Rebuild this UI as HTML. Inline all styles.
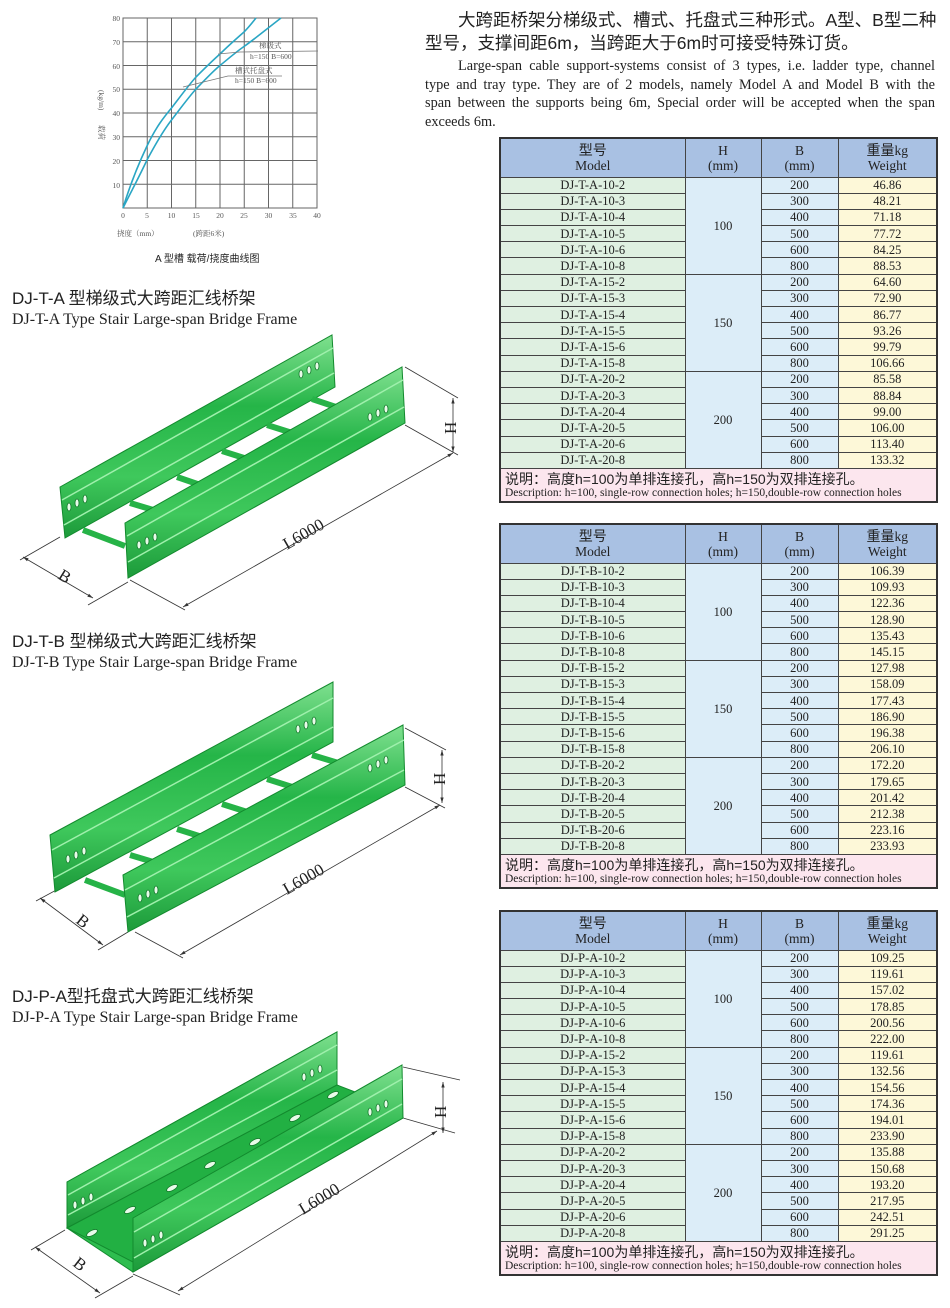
<!DOCTYPE html>
<html><head><meta charset="utf-8">
<style>
*{margin:0;padding:0;box-sizing:border-box}
body{width:950px;height:1308px;background:#fff;position:relative;overflow:hidden;font-family:"Liberation Serif","Noto Serif CJK SC",serif;color:#222}
.abs{position:absolute}
.cn{font-family:"Liberation Sans","Noto Sans CJK SC",sans-serif}
.jl{text-align:justify;text-align-last:justify;white-space:nowrap;display:block}
table{border-collapse:collapse;table-layout:fixed;position:absolute;left:499px;width:437px;border:2px solid #333;font-family:"Liberation Serif","Noto Sans CJK SC",serif}
td{border:1px solid #444;text-align:center;font-size:12.5px;line-height:14px;height:16.2px;padding:0;color:#222}
tr.h td{background:#a9c1e3;height:39px;font-size:13.5px;line-height:15px}
td.m{background:#dff0e1}
td.hh{background:#dcedf8}
td.b{background:#dcedf8}
td.w{background:#fdf8d8}
td.n{background:#fce6ee;text-align:left;padding-left:4px;height:34px}
td.n .c{font-family:"Liberation Sans","Noto Sans CJK SC",sans-serif;font-size:14px;line-height:16px;display:block}
td.n .e{font-size:11.5px;line-height:13px;display:block}
</style></head><body>

<div class="abs cn" style="left:425px;top:9px;width:510px;font-size:17.5px;line-height:23px;color:#222">
<span class="jl" style="padding-left:33px">大跨距桥架分梯级式、槽式、托盘式三种形式。A型、B型二种</span>
<span style="display:block;white-space:nowrap">型号，支撑间距6m，当跨距大于6m时可接受特殊订货。</span>
</div>
<div class="abs" style="left:425px;top:57px;width:510px;font-size:14.3px;line-height:18.5px">
<span class="jl" style="padding-left:33px">Large-span cable support-systems consist of 3 types, i.e. ladder type, channel</span>
<span class="jl">type and tray type. They are of 2 models, namely Model A and Model B with the</span>
<span class="jl">span between the supports being 6m, Special order will be accepted when the span</span>
<span style="display:block">exceeds 6m.</span>
</div>

<svg class="abs" style="left:0;top:0" width="420" height="275" viewBox="0 0 420 275">
<g stroke="#666" stroke-width="1" fill="none">
<rect x="123" y="18" width="194" height="190"/>
<line x1="147.25" y1="18" x2="147.25" y2="208"/><line x1="171.5" y1="18" x2="171.5" y2="208"/><line x1="195.75" y1="18" x2="195.75" y2="208"/><line x1="220" y1="18" x2="220" y2="208"/><line x1="244.25" y1="18" x2="244.25" y2="208"/><line x1="268.5" y1="18" x2="268.5" y2="208"/><line x1="292.75" y1="18" x2="292.75" y2="208"/>
<line x1="123" y1="41.75" x2="317" y2="41.75"/><line x1="123" y1="65.5" x2="317" y2="65.5"/><line x1="123" y1="89.25" x2="317" y2="89.25"/><line x1="123" y1="113" x2="317" y2="113"/><line x1="123" y1="136.75" x2="317" y2="136.75"/><line x1="123" y1="160.5" x2="317" y2="160.5"/><line x1="123" y1="184.25" x2="317" y2="184.25"/>
</g>
<g stroke="#2aa6c4" stroke-width="1.6" fill="none">
<path d="M123,208 C130,185 138,165 147,146 C156,127 164,117 171.5,108 C180,97 188,86 196,77 C204,69 212,61 220,54 C228,46 236,39 244,32 C249,27 252,23 256,18"/>
<path d="M123,208 C132,190 140,175 147,160 C155,145 163,131 171.5,120 C180,109 188,98 196,89 C204,81 212,72 220,65.5 C228,59 236,52 244,46.5 C256,38 268,28 281,18"/>
</g>
<g stroke="#777" stroke-width="0.8" fill="none"><polyline points="218,54 240,52 318,51"/><polyline points="183,87 228,76 282,76"/></g>
<g font-family="Liberation Serif,Noto Serif CJK SC,serif" font-size="7.5" fill="#555">
<text x="259" y="48">梯级式</text>
<text x="250" y="59">h=150 B=600</text>
<text x="235" y="73">槽式托盘式</text>
<text x="235" y="83">h=150 B=600</text>
<g text-anchor="end"><text x="120" y="21">80</text><text x="120" y="45">70</text><text x="120" y="69">60</text><text x="120" y="92">50</text><text x="120" y="116">40</text><text x="120" y="140">30</text><text x="120" y="164">20</text><text x="120" y="188">10</text></g>
<g text-anchor="middle"><text x="123" y="218">0</text><text x="147" y="218">5</text><text x="171.5" y="218">10</text><text x="196" y="218">15</text><text x="220" y="218">20</text><text x="244" y="218">25</text><text x="268.5" y="218">30</text><text x="293" y="218">35</text><text x="317" y="218">40</text></g>
<text x="117" y="236">挠度（mm）</text><text x="193" y="236">(跨距6米)</text>
<text transform="translate(99,90) rotate(90)">(kg/m)</text>
<text transform="translate(99,125) rotate(90)">载荷</text>
</g>
<text x="155" y="262" font-family="Liberation Sans,Noto Sans CJK SC,sans-serif" font-size="10" fill="#222">A 型槽  载荷/挠度曲线图</text>
</svg>

<div class="abs cn" style="left:12px;top:284px;font-size:17px">DJ-T-A 型梯级式大跨距汇线桥架</div>
<div class="abs" style="left:12px;top:311px;font-size:16px">DJ-T-A Type Stair Large-span Bridge Frame</div>
<div class="abs cn" style="left:12px;top:627px;font-size:17px">DJ-T-B 型梯级式大跨距汇线桥架</div>
<div class="abs" style="left:12px;top:654px;font-size:16px">DJ-T-B Type Stair Large-span Bridge Frame</div>
<div class="abs cn" style="left:12px;top:982px;font-size:17px">DJ-P-A型托盘式大跨距汇线桥架</div>
<div class="abs" style="left:12px;top:1009px;font-size:16px">DJ-P-A Type Stair Large-span Bridge Frame</div>

<svg class="abs" style="left:0;top:0" width="490" height="1308" viewBox="0 0 490 1308">
<defs>
<linearGradient id="g" x1="0" y1="0" x2="0" y2="1"><stop offset="0" stop-color="#7fe08f"/><stop offset="0.35" stop-color="#25b548"/><stop offset="0.7" stop-color="#3fc85c"/><stop offset="1" stop-color="#1c9a3a"/></linearGradient>
<marker id="a" viewBox="0 0 10 10" refX="10" refY="5" markerWidth="7" markerHeight="7" orient="auto-start-reverse"><path d="M0,2 L10,5 L0,8 z" fill="#333"/></marker>
</defs>
<g stroke="#333" stroke-width="0.8" fill="none">
<line x1="23" y1="557" x2="93" y2="598" marker-start="url(#a)" marker-end="url(#a)"/><line x1="20" y1="560" x2="60" y2="537"/><line x1="88" y1="605" x2="128" y2="582"/>
<line x1="183" y1="607" x2="453" y2="453" marker-start="url(#a)" marker-end="url(#a)"/><line x1="130" y1="580" x2="185" y2="610"/><line x1="405" y1="425" x2="458" y2="455"/>
<line x1="453" y1="398" x2="453" y2="452" marker-start="url(#a)" marker-end="url(#a)"/><line x1="405" y1="367" x2="458" y2="398"/>
<line x1="40" y1="898" x2="103" y2="945" marker-start="url(#a)" marker-end="url(#a)"/><line x1="36" y1="901" x2="60" y2="888"/><line x1="98" y1="950" x2="128" y2="932"/>
<line x1="180" y1="955" x2="440" y2="805" marker-start="url(#a)" marker-end="url(#a)"/><line x1="135" y1="932" x2="183" y2="958"/><line x1="405" y1="787" x2="445" y2="808"/>
<line x1="442" y1="750" x2="442" y2="803" marker-start="url(#a)" marker-end="url(#a)"/><line x1="405" y1="728" x2="446" y2="750"/>
<line x1="35" y1="1247" x2="100" y2="1293" marker-start="url(#a)" marker-end="url(#a)"/><line x1="31" y1="1250" x2="65" y2="1230"/><line x1="95" y1="1298" x2="133" y2="1276"/>
<line x1="178" y1="1291" x2="437" y2="1131" marker-start="url(#a)" marker-end="url(#a)"/><line x1="133" y1="1274" x2="180" y2="1295"/><line x1="403" y1="1118" x2="455" y2="1133"/>
<line x1="443" y1="1082" x2="443" y2="1133" marker-start="url(#a)" marker-end="url(#a)"/><line x1="403" y1="1067" x2="460" y2="1080"/>
</g>
<g font-family="Liberation Serif,serif" font-size="17" fill="#222">
<text transform="translate(57,578) rotate(32)">B</text>
<text transform="translate(287,550) rotate(-30)">L6000</text>
<text transform="translate(456,434) rotate(-90)">H</text>
<text transform="translate(75,922) rotate(38)">B</text>
<text transform="translate(287,895) rotate(-30)">L6000</text>
<text transform="translate(445,785) rotate(-90)">H</text>
<text transform="translate(72,1265) rotate(38)">B</text>
<text transform="translate(303,1215) rotate(-31)">L6000</text>
<text transform="translate(446,1118) rotate(-90)">H</text>
</g>
<!-- bridge1 -->
<g stroke="#138a2e" stroke-width="1">
<polygon points="60,487 332,335 335,387 65,538" fill="url(#g)"/>
<g stroke="#26b347" stroke-width="6"><line x1="83" y1="530" x2="125" y2="546"/><line x1="130" y1="503" x2="170" y2="515"/><line x1="177" y1="477" x2="215" y2="490"/><line x1="222" y1="451" x2="260" y2="463"/><line x1="267" y1="425" x2="305" y2="437"/><line x1="312" y1="399" x2="345" y2="410"/></g>
<polygon points="125,523 402,367 405,423 128,578" fill="url(#g)"/>
<g stroke="#9ff0ac" stroke-width="1.5"><line x1="62" y1="500" x2="333" y2="348"/><line x1="127" y1="536" x2="403" y2="380"/><line x1="64" y1="525" x2="334" y2="373"/><line x1="128" y1="562" x2="404" y2="407"/></g>
</g>
<!-- bridge2 -->
<g stroke="#138a2e" stroke-width="1">
<polygon points="50,835 333,682 333,742 55,892" fill="url(#g)"/>
<g stroke="#26b347" stroke-width="6"><line x1="85" y1="880" x2="125" y2="895"/><line x1="130" y1="855" x2="170" y2="867"/><line x1="177" y1="829" x2="215" y2="841"/><line x1="222" y1="804" x2="260" y2="816"/><line x1="267" y1="779" x2="305" y2="791"/><line x1="312" y1="755" x2="345" y2="765"/></g>
<polygon points="123,875 403,725 405,785 128,932" fill="url(#g)"/>
<g stroke="#9ff0ac" stroke-width="1.5"><line x1="52" y1="850" x2="333" y2="698"/><line x1="125" y1="890" x2="404" y2="740"/><line x1="54" y1="878" x2="333" y2="727"/><line x1="127" y1="917" x2="404" y2="770"/></g>
</g>
<!-- bridge3 -->
<g stroke="#138a2e" stroke-width="1">
<polygon points="67,1182 337,1032 337,1085 403,1118 133,1272 67,1228" fill="#2ebd4f"/>
<polygon points="67,1182 337,1032 337,1085 67,1228" fill="url(#g)"/>
<polygon points="67,1228 337,1085 402,1110 133,1262" fill="#22b043"/>
<polygon points="133,1218 402,1065 403,1118 133,1272" fill="url(#g)"/>
<g stroke="#9ff0ac" stroke-width="1.5"><line x1="68" y1="1195" x2="337" y2="1045"/><line x1="134" y1="1232" x2="402" y2="1079"/><line x1="68" y1="1215" x2="337" y2="1070"/><line x1="134" y1="1258" x2="402" y2="1104"/></g>
</g>
<!-- holes -->
<g fill="#e8fbe9" stroke="#137a2b" stroke-width="0.8">
<ellipse cx="69" cy="507" rx="2" ry="4"/><ellipse cx="77" cy="503" rx="2" ry="4"/><ellipse cx="85" cy="499" rx="2" ry="4"/>
<ellipse cx="301" cy="374" rx="2" ry="4"/><ellipse cx="309" cy="370" rx="2" ry="4"/><ellipse cx="317" cy="366" rx="2" ry="4"/>
<ellipse cx="139" cy="545" rx="2" ry="4"/><ellipse cx="147" cy="541" rx="2" ry="4"/><ellipse cx="155" cy="537" rx="2" ry="4"/>
<ellipse cx="370" cy="417" rx="2" ry="4"/><ellipse cx="378" cy="413" rx="2" ry="4"/><ellipse cx="386" cy="409" rx="2" ry="4"/>
<ellipse cx="68" cy="859" rx="2" ry="4"/><ellipse cx="76" cy="855" rx="2" ry="4"/><ellipse cx="84" cy="851" rx="2" ry="4"/>
<ellipse cx="298" cy="729" rx="2" ry="4"/><ellipse cx="306" cy="725" rx="2" ry="4"/><ellipse cx="314" cy="721" rx="2" ry="4"/>
<ellipse cx="140" cy="898" rx="2" ry="4"/><ellipse cx="148" cy="894" rx="2" ry="4"/><ellipse cx="156" cy="890" rx="2" ry="4"/>
<ellipse cx="370" cy="768" rx="2" ry="4"/><ellipse cx="378" cy="764" rx="2" ry="4"/><ellipse cx="386" cy="760" rx="2" ry="4"/>
<ellipse cx="75" cy="1205" rx="2" ry="4"/><ellipse cx="83" cy="1201" rx="2" ry="4"/><ellipse cx="91" cy="1197" rx="2" ry="4"/>
<ellipse cx="304" cy="1077" rx="2" ry="4"/><ellipse cx="312" cy="1073" rx="2" ry="4"/><ellipse cx="320" cy="1069" rx="2" ry="4"/>
<ellipse cx="145" cy="1243" rx="2" ry="4"/><ellipse cx="153" cy="1239" rx="2" ry="4"/><ellipse cx="161" cy="1235" rx="2" ry="4"/>
<ellipse cx="370" cy="1112" rx="2" ry="4"/><ellipse cx="378" cy="1108" rx="2" ry="4"/><ellipse cx="386" cy="1104" rx="2" ry="4"/>
<g transform="rotate(-30)"><ellipse cx="0" cy="0" rx="0" ry="0"/></g>
<ellipse cx="92" cy="1233" rx="6" ry="2.5" transform="rotate(-28 92 1233)"/><ellipse cx="130" cy="1210" rx="6" ry="2.5" transform="rotate(-28 130 1210)"/><ellipse cx="172" cy="1188" rx="6" ry="2.5" transform="rotate(-28 172 1188)"/><ellipse cx="210" cy="1165" rx="6" ry="2.5" transform="rotate(-28 210 1165)"/><ellipse cx="255" cy="1142" rx="6" ry="2.5" transform="rotate(-28 255 1142)"/><ellipse cx="295" cy="1118" rx="6" ry="2.5" transform="rotate(-28 295 1118)"/><ellipse cx="333" cy="1095" rx="6" ry="2.5" transform="rotate(-28 333 1095)"/>
</g>
</svg>

<table style="top:137px">
<colgroup><col style="width:185px"><col style="width:76px"><col style="width:77px"><col style="width:99px"></colgroup>
<tr class="h"><td><span class="cn" style="font-size:14px">型号</span><br>Model</td><td>H<br>(mm)</td><td>B<br>(mm)</td><td><span class="cn" style="font-size:14px">重量</span>kg<br>Weight</td></tr>
<tr><td class="m">DJ-T-A-10-2</td><td class="hh" rowspan="6">100</td><td class="b">200</td><td class="w">46.86</td></tr>
<tr><td class="m">DJ-T-A-10-3</td><td class="b">300</td><td class="w">48.21</td></tr>
<tr><td class="m">DJ-T-A-10-4</td><td class="b">400</td><td class="w">71.18</td></tr>
<tr><td class="m">DJ-T-A-10-5</td><td class="b">500</td><td class="w">77.72</td></tr>
<tr><td class="m">DJ-T-A-10-6</td><td class="b">600</td><td class="w">84.25</td></tr>
<tr><td class="m">DJ-T-A-10-8</td><td class="b">800</td><td class="w">88.53</td></tr>
<tr><td class="m">DJ-T-A-15-2</td><td class="hh" rowspan="6">150</td><td class="b">200</td><td class="w">64.60</td></tr>
<tr><td class="m">DJ-T-A-15-3</td><td class="b">300</td><td class="w">72.90</td></tr>
<tr><td class="m">DJ-T-A-15-4</td><td class="b">400</td><td class="w">86.77</td></tr>
<tr><td class="m">DJ-T-A-15-5</td><td class="b">500</td><td class="w">93.26</td></tr>
<tr><td class="m">DJ-T-A-15-6</td><td class="b">600</td><td class="w">99.79</td></tr>
<tr><td class="m">DJ-T-A-15-8</td><td class="b">800</td><td class="w">106.66</td></tr>
<tr><td class="m">DJ-T-A-20-2</td><td class="hh" rowspan="6">200</td><td class="b">200</td><td class="w">85.58</td></tr>
<tr><td class="m">DJ-T-A-20-3</td><td class="b">300</td><td class="w">88.84</td></tr>
<tr><td class="m">DJ-T-A-20-4</td><td class="b">400</td><td class="w">99.00</td></tr>
<tr><td class="m">DJ-T-A-20-5</td><td class="b">500</td><td class="w">106.00</td></tr>
<tr><td class="m">DJ-T-A-20-6</td><td class="b">600</td><td class="w">113.40</td></tr>
<tr><td class="m">DJ-T-A-20-8</td><td class="b">800</td><td class="w">133.32</td></tr>
<tr><td class="n" colspan="4"><span class="c">说明：高度h=100为单排连接孔，高h=150为双排连接孔。</span><span class="e">Description: h=100, single-row connection holes; h=150,double-row connection holes</span></td></tr>
</table>

<table style="top:523px">
<colgroup><col style="width:185px"><col style="width:76px"><col style="width:77px"><col style="width:99px"></colgroup>
<tr class="h"><td><span class="cn" style="font-size:14px">型号</span><br>Model</td><td>H<br>(mm)</td><td>B<br>(mm)</td><td><span class="cn" style="font-size:14px">重量</span>kg<br>Weight</td></tr>
<tr><td class="m">DJ-T-B-10-2</td><td class="hh" rowspan="6">100</td><td class="b">200</td><td class="w">106.39</td></tr>
<tr><td class="m">DJ-T-B-10-3</td><td class="b">300</td><td class="w">109.93</td></tr>
<tr><td class="m">DJ-T-B-10-4</td><td class="b">400</td><td class="w">122.36</td></tr>
<tr><td class="m">DJ-T-B-10-5</td><td class="b">500</td><td class="w">128.90</td></tr>
<tr><td class="m">DJ-T-B-10-6</td><td class="b">600</td><td class="w">135.43</td></tr>
<tr><td class="m">DJ-T-B-10-8</td><td class="b">800</td><td class="w">145.15</td></tr>
<tr><td class="m">DJ-T-B-15-2</td><td class="hh" rowspan="6">150</td><td class="b">200</td><td class="w">127.98</td></tr>
<tr><td class="m">DJ-T-B-15-3</td><td class="b">300</td><td class="w">158.09</td></tr>
<tr><td class="m">DJ-T-B-15-4</td><td class="b">400</td><td class="w">177.43</td></tr>
<tr><td class="m">DJ-T-B-15-5</td><td class="b">500</td><td class="w">186.90</td></tr>
<tr><td class="m">DJ-T-B-15-6</td><td class="b">600</td><td class="w">196.38</td></tr>
<tr><td class="m">DJ-T-B-15-8</td><td class="b">800</td><td class="w">206.10</td></tr>
<tr><td class="m">DJ-T-B-20-2</td><td class="hh" rowspan="6">200</td><td class="b">200</td><td class="w">172.20</td></tr>
<tr><td class="m">DJ-T-B-20-3</td><td class="b">300</td><td class="w">179.65</td></tr>
<tr><td class="m">DJ-T-B-20-4</td><td class="b">400</td><td class="w">201.42</td></tr>
<tr><td class="m">DJ-T-B-20-5</td><td class="b">500</td><td class="w">212.38</td></tr>
<tr><td class="m">DJ-T-B-20-6</td><td class="b">600</td><td class="w">223.16</td></tr>
<tr><td class="m">DJ-T-B-20-8</td><td class="b">800</td><td class="w">233.93</td></tr>
<tr><td class="n" colspan="4"><span class="c">说明：高度h=100为单排连接孔，高h=150为双排连接孔。</span><span class="e">Description: h=100, single-row connection holes; h=150,double-row connection holes</span></td></tr>
</table>

<table style="top:910px">
<colgroup><col style="width:185px"><col style="width:76px"><col style="width:77px"><col style="width:99px"></colgroup>
<tr class="h"><td><span class="cn" style="font-size:14px">型号</span><br>Model</td><td>H<br>(mm)</td><td>B<br>(mm)</td><td><span class="cn" style="font-size:14px">重量</span>kg<br>Weight</td></tr>
<tr><td class="m">DJ-P-A-10-2</td><td class="hh" rowspan="6">100</td><td class="b">200</td><td class="w">109.25</td></tr>
<tr><td class="m">DJ-P-A-10-3</td><td class="b">300</td><td class="w">119.61</td></tr>
<tr><td class="m">DJ-P-A-10-4</td><td class="b">400</td><td class="w">157.02</td></tr>
<tr><td class="m">DJ-P-A-10-5</td><td class="b">500</td><td class="w">178.85</td></tr>
<tr><td class="m">DJ-P-A-10-6</td><td class="b">600</td><td class="w">200.56</td></tr>
<tr><td class="m">DJ-P-A-10-8</td><td class="b">800</td><td class="w">222.00</td></tr>
<tr><td class="m">DJ-P-A-15-2</td><td class="hh" rowspan="6">150</td><td class="b">200</td><td class="w">119.61</td></tr>
<tr><td class="m">DJ-P-A-15-3</td><td class="b">300</td><td class="w">132.56</td></tr>
<tr><td class="m">DJ-P-A-15-4</td><td class="b">400</td><td class="w">154.56</td></tr>
<tr><td class="m">DJ-P-A-15-5</td><td class="b">500</td><td class="w">174.36</td></tr>
<tr><td class="m">DJ-P-A-15-6</td><td class="b">600</td><td class="w">194.01</td></tr>
<tr><td class="m">DJ-P-A-15-8</td><td class="b">800</td><td class="w">233.90</td></tr>
<tr><td class="m">DJ-P-A-20-2</td><td class="hh" rowspan="6">200</td><td class="b">200</td><td class="w">135.88</td></tr>
<tr><td class="m">DJ-P-A-20-3</td><td class="b">300</td><td class="w">150.68</td></tr>
<tr><td class="m">DJ-P-A-20-4</td><td class="b">400</td><td class="w">193.20</td></tr>
<tr><td class="m">DJ-P-A-20-5</td><td class="b">500</td><td class="w">217.95</td></tr>
<tr><td class="m">DJ-P-A-20-6</td><td class="b">600</td><td class="w">242.51</td></tr>
<tr><td class="m">DJ-P-A-20-8</td><td class="b">800</td><td class="w">291.25</td></tr>
<tr><td class="n" colspan="4"><span class="c">说明：高度h=100为单排连接孔，高h=150为双排连接孔。</span><span class="e">Description: h=100, single-row connection holes; h=150,double-row connection holes</span></td></tr>
</table>

</body></html>
